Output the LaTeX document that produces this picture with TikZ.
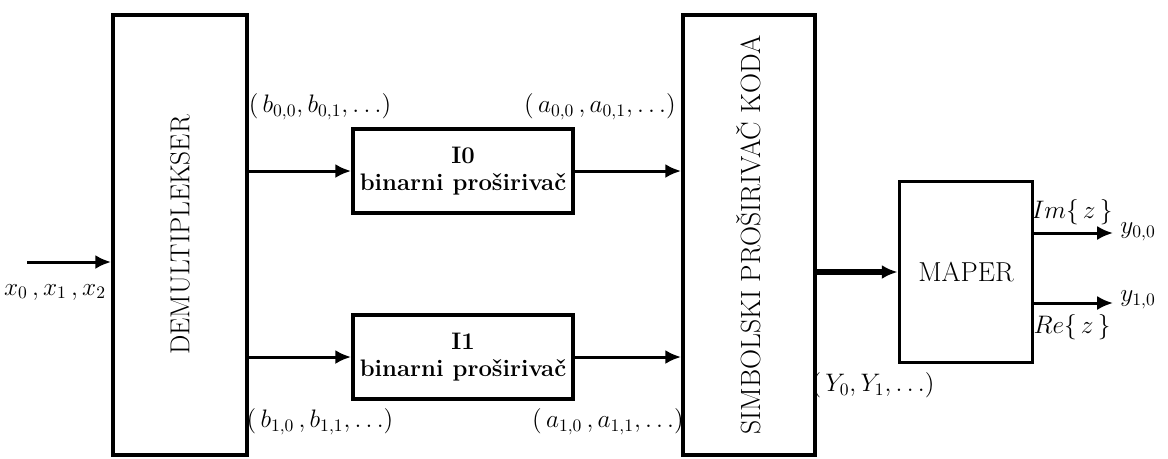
\documentclass[tikz,border=0pt]{standalone}
\usepackage{graphicx}
\usetikzlibrary{positioning, arrows, arrows.meta}

\begin{document}
\begin{tikzpicture}[x=0.02cm,y=-0.02cm,
    blok/.style={draw,line width=2.2pt,fill=white,inner sep=0pt},
    veza/.style={-{Latex[length=9pt,width=8pt]},line width=1.7pt},
    oznaka/.style={font=\Large,inner sep=0pt}]
  \useasboundingbox (0,0) rectangle (1168,458);

  \node[blok,minimum width=2.68cm,minimum height=8.8cm,font=\fontsize{15.6}{18}\selectfont] (demux) at (180,235) {\rotatebox{90}{DEMULTIPLEKSER}};
  \node[blok,minimum width=4.4cm,minimum height=1.68cm,align=center,font=\fontsize{13.6}{15.5}\selectfont\bfseries] (p0) at (463,171) {I0\\binarni proširivač};
  \node[blok,minimum width=4.4cm,minimum height=1.68cm,align=center,font=\fontsize{13.6}{15.5}\selectfont\bfseries] (p1) at (463,357) {I1\\binarni proširivač};
  \node[blok,minimum width=2.64cm,minimum height=8.8cm,font=\fontsize{15.8}{18}\selectfont] (kod) at (749,235) {\rotatebox{90}{SIMBOLSKI PROŠIRIVAČ KODA}};
  \node[blok,minimum width=2.66cm,minimum height=3.62cm,font=\fontsize{15.6}{18}\selectfont] (maper) at (966,272) {MAPER};

  \coordinate (ulaz) at (27,262);
  \coordinate (izl0) at (1113,233);
  \coordinate (izl1) at (1113,303);

  \draw[veza] (ulaz) -- (ulaz -| demux.west);
  \draw[veza] (demux.east |- p0.west) -- (p0.west);
  \draw[veza] (demux.east |- p1.west) -- (p1.west);
  \draw[veza] (p0.east) -- (p0.east -| kod.west);
  \draw[veza] (p1.east) -- (p1.east -| kod.west);
  \draw[veza,line width=3.4pt] (kod.east |- maper.west) -- (maper.west);
  \draw[veza] (maper.east |- izl0) -- (izl0);
  \draw[veza] (maper.east |- izl1) -- (izl1);

  \node[oznaka] (xlab) at (55,292) {$x_0\,,x_1\,,x_2$};
  \node[oznaka] (b0lab) at (320,107) {$(\,b_{0,0},b_{0,1},\ldots)$};
  \node[oznaka] (a0lab) at (600,107) {$(\,a_{0,0}\,,a_{0,1},\ldots)$};
  \node[oznaka] (b1lab) at (320,422) {$(\,b_{1,0}\,,b_{1,1},\ldots)$};
  \node[oznaka] (a1lab) at (608,422) {$(\,a_{1,0}\,,a_{1,1},\ldots)$};
  \node[oznaka] (ylab) at (873,385) {$(\,Y_0,Y_1,\ldots)$};
  \node[oznaka] (imlab) at (1072,212) {$Im\{\,z\,\}$};
  \node[oznaka] (relab) at (1072,327) {$Re\{\,z\,\}$};
  \node[oznaka,anchor=west] (y0lab) at (1120,232) {$y_{0,0}$};
  \node[oznaka,anchor=west] (y1lab) at (1120,300) {$y_{1,0}$};
\end{tikzpicture}
\end{document}
